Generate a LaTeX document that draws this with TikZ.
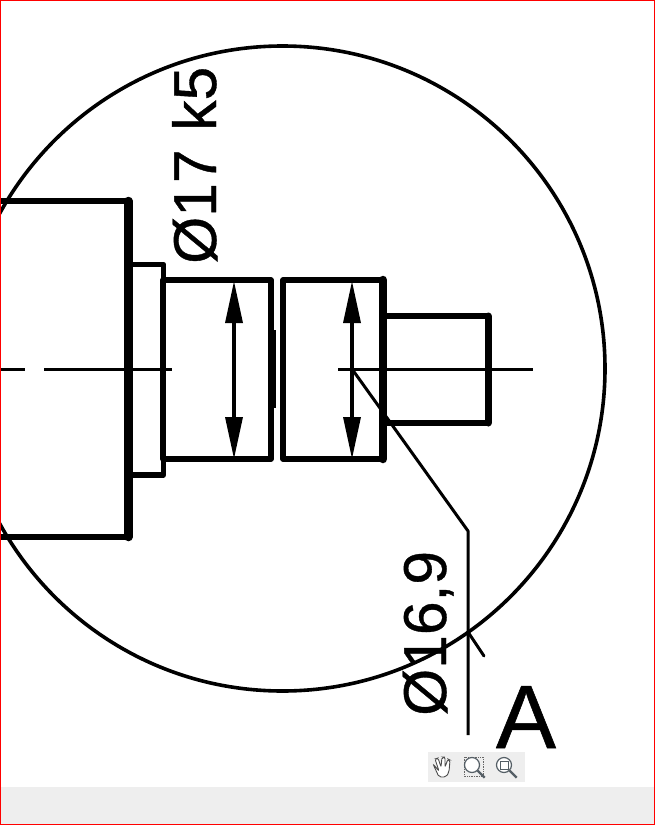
\documentclass[tikz,border=0pt]{standalone}
\usepackage{fontspec}
\setmainfont{Liberation Sans}
\newfontfamily\dimfont[FakeBold=0.6]{Liberation Sans}
\usetikzlibrary{positioning,arrows.meta}
\definecolor{BarGray}{HTML}{EEEEEE}
\definecolor{IconGray}{HTML}{555F66}
\begin{document}
\begin{tikzpicture}[x=1pt,y=-1pt,node distance = 0pt,
PartStyle/.style={draw, line width=5.5pt, outer sep=0pt, inner sep=0pt, line join=round},
ThickEdge/.style={line width=8.5pt, line cap=round},
CenterStyle/.style={line width=3pt},
DimStyle/.style={line width=3.4pt, {Triangle[length=42pt,width=17pt]}-{Triangle[length=42pt,width=17pt]}},
LeaderStyle/.style={line width=3pt, line join=round},
LabelStyle/.style={rotate=90, inner sep=0pt, font=\dimfont\fontsize{60.5}{60.5}\selectfont},
IconStyle/.style={draw=IconGray, line width=1.2pt, fill=white},
]
\useasboundingbox (0,0) rectangle (655,825);
\fill [white] (0,0) rectangle (655,825);
\fill [BarGray] (1,787) rectangle (654,824);
\fill [BarGray] (428,752) rectangle (525,782);
\begin{scope}
\clip (1,1) rectangle (654,786);
\node [draw, circle, line width=3.6pt, minimum size=645pt, inner sep=0pt, outer sep=0pt] (detail) at (282.5,368.5) {};
\draw [line width=5.5pt, line join=round] (-10,201) -- (128.5,201) -- (128.5,537) -- (-10,537);
\end{scope}
\coordinate (blocktop) at (128.5,201);
\coordinate (blockbot) at (128.5,537);
\draw [ThickEdge] (blocktop) -- (blockbot);
\node [PartStyle, minimum width=35pt, minimum height=210.5pt] (collar) at (146,369.75) {};
\node [PartStyle, minimum width=108pt, minimum height=179pt] (seat) at (217,369.5) {};
\node [PartStyle, minimum width=100pt, minimum height=179pt] (bearing) at (333,369.5) {};
\node [PartStyle, minimum width=104pt, minimum height=107pt] (pin) at (436,369.5) {};
\draw [ThickEdge] (bearing.north east) -- (bearing.south east);
\draw [ThickEdge, line width=7pt] (pin.north east) -- (pin.south east);
\draw [line width=8pt] (272,330) -- (272,408);
% center line
\draw [CenterStyle] (0,369) -- (25,369);
\draw [CenterStyle] (44,369) -- (172,369);
\draw [CenterStyle] (338,369) -- (533,369);
% dimensions
\coordinate (seattop) at (234,281);
\coordinate (seatbot) at (234,459);
\coordinate (bearingtop) at (352,281);
\coordinate (bearingbot) at (352,459);
\draw [DimStyle] (seattop) -- (seatbot);
\draw [DimStyle] (bearingtop) -- (bearingbot);
% leader
\coordinate (leadstart) at (352,369);
\coordinate (leadknee) at (468,531);
\coordinate (leadend) at (468,735);
\coordinate (ticka) at (468,632);
\coordinate (tickb) at (484,656);
\draw [LeaderStyle] (leadstart) -- (leadknee) -- (leadend);
\draw [LeaderStyle, line cap=round] (ticka) -- (tickb);
% labels
\node [LabelStyle, anchor=base west] (fitlabel) at (216,264) {Ø17\hspace{2pt} k5};
\node [LabelStyle, anchor=base west] (sizelabel) at (446,716) {Ø16,9};
\node [inner sep=0pt, anchor=base, font=\dimfont\fontsize{90}{90}\selectfont] (viewlabel) at (526,748) {A};
% toolbar
\fill [IconStyle, draw=black!70, line width=.9pt, rounded corners=2pt] (433,764) -- (439,771) -- (435,759) -- (438,758) -- (441,767) -- (442,757) -- (445,757) -- (445,767) -- (448,759) -- (450,760) -- (449,772) -- (446,777) -- (439,777) -- cycle;
\draw [black!60, densely dotted, line width=.7pt] (464,757) rectangle (483,776);
\node [IconStyle, circle, minimum size=15pt, inner sep=0pt, fill=white] (zoomin) at (472,765) {};
\draw [IconGray, line width=2.4pt] (zoomin.-45) -- ++(7,7);
\node [IconStyle, circle, minimum size=15pt, inner sep=0pt] (zoomfit) at (504,765) {};
\draw [IconGray, line width=2.4pt] (zoomfit.-45) -- ++(7,7);
\draw [IconGray, line width=.9pt] (500,761) rectangle (508,769);
% frame
\draw [red, line width=1.2pt] (.6,.6) rectangle (654.4,824.4);
\end{tikzpicture}
\end{document}
